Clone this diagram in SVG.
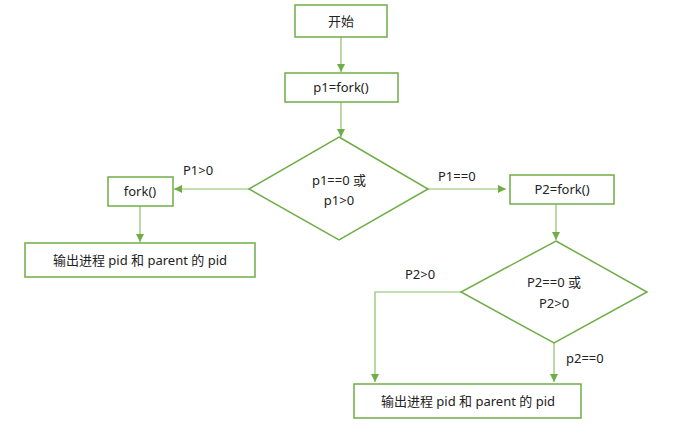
<svg xmlns="http://www.w3.org/2000/svg" width="681" height="437" viewBox="0 0 681 437">
<defs>
<marker id="arr" markerWidth="10" markerHeight="10" refX="9" refY="5" orient="auto" markerUnits="userSpaceOnUse">
<path d="M1,1 L9,5 L1,9 Z" fill="#70AD47"/>
</marker>
</defs>
<style>
.n{fill:#fff;stroke:#70AD47;stroke-width:1.5}
.c{fill:none;stroke:#8CC068;stroke-width:1.2}
text{font-family:"Noto Sans","Noto Sans CJK SC",sans-serif;font-size:13px;fill:#222}
.m{text-anchor:middle}
</style>
<rect width="681" height="437" fill="#fff"/>
<g id="connectors">
<line class="c" x1="341" y1="37" x2="341" y2="72" marker-end="url(#arr)"/>
<line class="c" x1="341" y1="102" x2="341" y2="137" marker-end="url(#arr)"/>
<line class="c" x1="249" y1="189" x2="174" y2="189" marker-end="url(#arr)"/>
<line class="c" x1="140" y1="206" x2="140" y2="242" marker-end="url(#arr)"/>
<line class="c" x1="428" y1="189" x2="506" y2="189" marker-end="url(#arr)"/>
<line class="c" x1="556" y1="204" x2="556" y2="240" marker-end="url(#arr)"/>
<polyline class="c" points="461,292 375,292 375,382" marker-end="url(#arr)"/>
<line class="c" x1="554" y1="343" x2="554" y2="382" marker-end="url(#arr)"/>
<text x="183" y="175">P1&gt;0</text>
<text x="438" y="181">P1==0</text>
<text x="405" y="279">P2&gt;0</text>
<text x="566" y="363">p2==0</text>
</g>
<g id="start">
<rect class="n" x="295" y="5" width="92" height="32"/>
<text class="m" x="341" y="26">开始</text>
</g>
<g id="fork1">
<rect class="n" x="285" y="73" width="113" height="29"/>
<text class="m" x="341" y="92">p1=fork()</text>
</g>
<g id="dec1">
<polygon class="n" points="339,137 428,189 339,240 249,189"/>
<text class="m" x="339" y="185">p1==0 或</text>
<text class="m" x="339" y="205">p1&gt;0</text>
</g>
<g id="fork2">
<rect class="n" x="108" y="177" width="65" height="29"/>
<text class="m" x="140" y="196">fork()</text>
</g>
<g id="out1">
<rect class="n" x="25" y="243" width="230" height="34"/>
<text class="m" x="140" y="265">输出进程 pid 和 parent 的 pid</text>
</g>
<g id="fork3">
<rect class="n" x="510" y="175" width="104" height="29"/>
<text class="m" x="562" y="194">P2=fork()</text>
</g>
<g id="dec2">
<polygon class="n" points="556,241 647,292 554,343 461,292"/>
<text class="m" x="554" y="287">P2==0 或</text>
<text class="m" x="554" y="308">P2&gt;0</text>
</g>
<g id="out2">
<rect class="n" x="354" y="384" width="227" height="34"/>
<text class="m" x="468" y="406">输出进程 pid 和 parent 的 pid</text>
</g>
</svg>
